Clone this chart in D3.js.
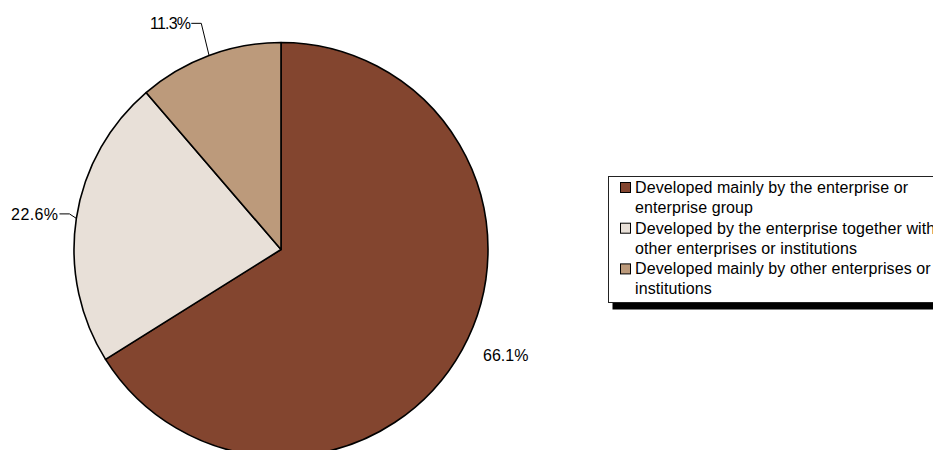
<!DOCTYPE html>
<html>
<head>
<meta charset="utf-8">
<script src="https://cdn.jsdelivr.net/npm/d3@7/dist/d3.min.js"></script>
<style>
  html, body { margin: 0; padding: 0; background: #fff; }
  svg { display: block; font-family: "Liberation Sans", Arial, sans-serif; }
</style>
</head>
<body>
<svg id="chart" width="933" height="450"></svg>
<script>
// Who developed the innovation: share of enterprises (%)
const categories = [
  "Developed mainly by the enterprise or enterprise group",
  "Developed by the enterprise together with other enterprises or institutions",
  "Developed mainly by other enterprises or institutions"
];
const shares = [66.1, 22.6, 11.3];
const valueLabels = ["66.1%", "22.6%", "11.3%"];
const legendLines = [
  ["Developed mainly by the enterprise or", "enterprise group"],
  ["Developed by the enterprise together with", "other enterprises or institutions"],
  ["Developed mainly by other enterprises or", "institutions"]
];
const colors = ["#83452f", "#e8e0d8", "#bc9a7b"];

// Layout
const cx = 281, cy = 249.5, radius = 207;
// label placement: radius of label point along mid-angle, leader flag, tracking
const labelLayout = [
  { r: 250, leader: false, spacing: 0 },
  { r: 217, leader: true, spacing: 0.4 },
  { r: 238, leader: true, spacing: -0.8 }
];

const svg = d3.select("#chart");
const g = svg.append("g").attr("transform", `translate(${cx},${cy})`);

const pie = d3.pie().sort(null).value(d => d).startAngle(0).endAngle(2 * Math.PI);
const arcs = pie(shares);
const arc = d3.arc().innerRadius(0).outerRadius(radius);

g.selectAll("path.slice")
  .data(arcs)
  .join("path")
  .attr("class", "slice")
  .attr("d", arc)
  .attr("fill", (d, i) => colors[i])
  .attr("stroke", "#000")
  .attr("stroke-width", 1.6)
  .attr("stroke-linejoin", "round");

// Value labels
const pointAt = (a, r) => [Math.sin(a) * r, -Math.cos(a) * r];

arcs.forEach((d, i) => {
  const mid = (d.startAngle + d.endAngle) / 2;
  const lay = labelLayout[i];
  const [ex, ey] = pointAt(mid, lay.r);
  if (lay.leader) {
    const [px, py] = pointAt(mid, radius);
    const elbowX = ex + 3, elbowY = ey - 3;
    g.append("polyline")
      .attr("points", [[px, py], [elbowX, elbowY], [elbowX - 10, elbowY]].map(p => p.join(",")).join(" "))
      .attr("fill", "none")
      .attr("stroke", "#000")
      .attr("stroke-width", 1);
    g.append("text")
      .attr("x", elbowX - 11)
      .attr("y", elbowY + 6)
      .attr("text-anchor", "end")
      .attr("font-size", 16)
      .attr("letter-spacing", lay.spacing)
      .attr("fill", "#000")
      .text(valueLabels[i]);
  } else {
    g.append("text")
      .attr("x", ex + 6)
      .attr("y", ey - 10)
      .attr("text-anchor", "middle")
      .attr("font-size", 16)
      .attr("letter-spacing", lay.spacing)
      .attr("fill", "#000")
      .text(valueLabels[i]);
  }
});

// Legend with drop shadow
const lg = svg.append("g").attr("transform", "translate(608.5,176.5)");
lg.append("rect")
  .attr("x", 4).attr("y", 7)
  .attr("width", 400).attr("height", 126)
  .attr("fill", "#000");
lg.append("rect")
  .attr("x", 0).attr("y", 0)
  .attr("width", 400).attr("height", 126)
  .attr("fill", "#fff")
  .attr("stroke", "#222")
  .attr("stroke-width", 1);

const itemGap = 40.7, lineGap = 20;
categories.forEach((c, i) => {
  const y0 = 16.5 + i * itemGap;
  lg.append("rect")
    .attr("x", 12).attr("y", y0 - 10.5)
    .attr("width", 10).attr("height", 10)
    .attr("fill", colors[i])
    .attr("stroke", "#000")
    .attr("stroke-width", 1);
  const t = lg.append("text")
    .attr("x", 26.5)
    .attr("y", y0)
    .attr("font-size", 16)
    .attr("letter-spacing", 0.1)
    .attr("fill", "#000");
  legendLines[i].forEach((ln, j) => {
    t.append("tspan").attr("x", 26.5).attr("y", y0 + j * lineGap).text(ln);
  });
});
</script>
</body>
</html>
